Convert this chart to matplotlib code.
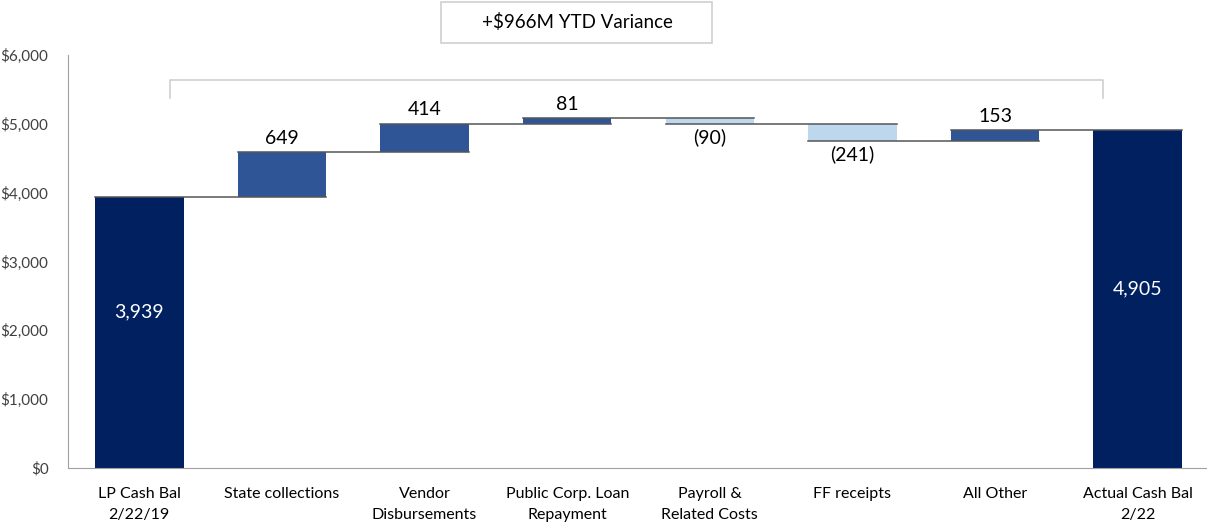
import numpy as np
import matplotlib
matplotlib.use("Agg")
from matplotlib import pyplot as plt
from matplotlib.patches import Rectangle

# data
categories = ["LP Cash Bal\n2/22/19", "State collections", "Vendor\nDisbursements",
              "Public Corp. Loan\nRepayment", "Payroll &\nRelated Costs", "FF receipts",
              "All Other", "Actual Cash Bal\n2/22"]
start_balance = 3939
changes = [649, 414, 81, -90, -241, 153]
end_balance = 4905
yticks = [0, 1000, 2000, 3000, 4000, 5000, 6000]
variance_text = "+$966M YTD Variance"

NAVY = "#002060"
POS = "#2F5597"
NEG = "#BDD7EE"

plt.rcParams['font.family'] = ['Lato', 'DejaVu Sans']

fig = plt.figure(figsize=(12.07, 5.27), dpi=100)
ax = fig.add_axes([68/1207, 1-468/527, 1141/1207, 413/527])

width = 0.62
x = np.arange(len(categories))

# totals
ax.bar(x[0], start_balance, width, color=NAVY, zorder=2)
ax.bar(x[-1], end_balance, width, color=NAVY, zorder=2)

# floating bars
level = start_balance
levels = [start_balance]
for i, d in enumerate(changes):
    bottom = level if d > 0 else level + d
    ax.bar(x[i+1], abs(d), width, bottom=bottom, color=POS if d > 0 else NEG, zorder=2)
    level += d
    levels.append(level)

# connectors: left edge of bar i to right edge of bar i+1
for i, lv in enumerate(levels):
    ax.plot([x[i] - width/2, x[i+1] + width/2], [lv, lv], color="#555555", lw=1.1, zorder=3)

# labels
ax.text(x[0], start_balance/2 + 300, f"{start_balance:,}", color="white", fontsize=14,
        ha="center", va="center")
ax.text(x[-1], end_balance/2 + 150, f"{end_balance:,}", color="white", fontsize=14,
        ha="center", va="center")
level = start_balance
for i, d in enumerate(changes):
    if d > 0:
        ax.annotate(f"{d}", (x[i+1], level + d), xytext=(0, 4), textcoords="offset points",
                    ha="center", va="bottom", fontsize=14, color="black")
    else:
        ax.annotate(f"({-d})", (x[i+1], level + d), xytext=(0, -3), textcoords="offset points",
                    ha="center", va="top", fontsize=14, color="black")
    level += d

# bracket over changes
ax.plot([0.215, 0.215, 6.76, 6.76], [5380, 5640, 5640, 5380], color="#D0D0D0", lw=1.2,
        zorder=1, clip_on=False)

# variance box
fig.patches.append(Rectangle((441/1207, 1-43/527), 271/1207, 41/527, transform=fig.transFigure,
                             fc="white", ec="#D0D0D0", lw=1.2))
fig.text(577/1207, 1-22/527, variance_text, ha="center", va="center", fontsize=13.5)

ax.set_xlim(-0.5, 7.5)
ax.set_ylim(0, 6000)
ax.set_yticks(yticks)
ax.set_yticklabels([f"${v:,}" for v in yticks], fontsize=11, color="#404040")
ax.set_xticks(x)
ax.set_xticklabels(categories, fontsize=11.5, color="black", linespacing=1.6)
ax.tick_params(length=0)
ax.tick_params(axis="y", pad=14)
ax.tick_params(axis="x", pad=14)
for s in ["top", "right"]:
    ax.spines[s].set_visible(False)
ax.spines["left"].set_color("#A0A0A0")
ax.spines["bottom"].set_color("#A0A0A0")

fig.savefig("out.png", dpi=100)
